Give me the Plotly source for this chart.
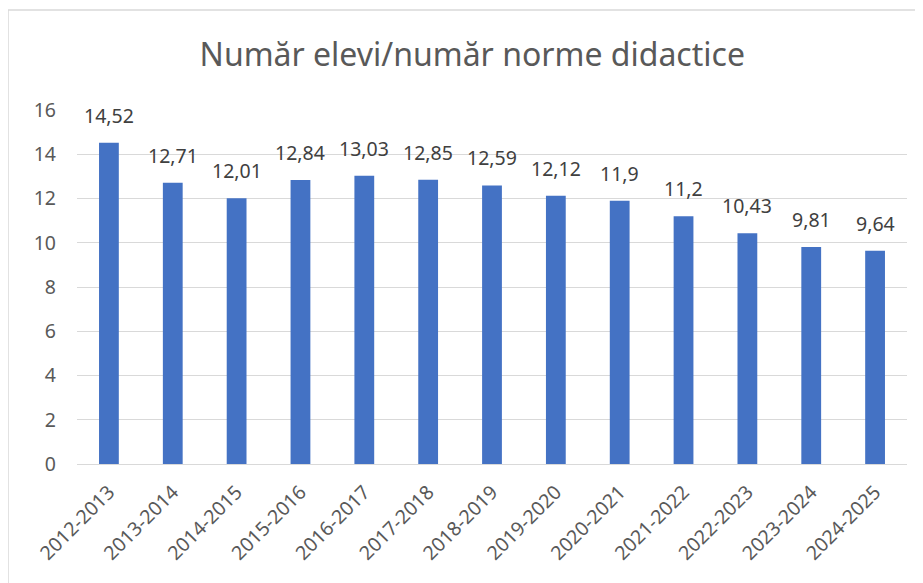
import plotly.graph_objects as go

categories = ["2012-2013", "2013-2014", "2014-2015", "2015-2016", "2016-2017",
              "2017-2018", "2018-2019", "2019-2020", "2020-2021", "2021-2022",
              "2022-2023", "2023-2024", "2024-2025"]
values = [14.52, 12.71, 12.01, 12.84, 13.03, 12.85, 12.59, 12.12, 11.9, 11.2, 10.43, 9.81, 9.64]
y_ticks = [0, 2, 4, 6, 8, 10, 12, 14, 16]
title_text = "Număr elevi/număr norme didactice"

labels = [str(v).replace(".", ",") for v in values]

FONT = "Noto Sans"
GRAY = "#595959"

# page body has an 8px margin: figure coordinates = reference pixels - 8
L, R, T, B = 69, 24, 102, 127
PW, PH = 923 - L - R, 583 - T - B

fig = go.Figure()
fig.add_trace(go.Bar(x=categories, y=values, marker=dict(color="#4472C4", line=dict(width=0)),
                     width=0.31, hoverinfo="skip"))

for c, v, t in zip(categories, values, labels):
    fig.add_annotation(x=c, y=v, text=t, showarrow=False, yanchor="bottom", yshift=12,
                       font=dict(family=FONT, size=19.5, color="#404040"))

fig.update_layout(
    width=923, height=583,
    margin=dict(l=L, r=R, t=T, b=B, autoexpand=False),
    paper_bgcolor="white", plot_bgcolor="white",
    showlegend=False,
    title=dict(text=title_text, x=0.503, xanchor="center", y=1 - 47 / 583, yanchor="middle",
               font=dict(family=FONT, size=32, color=GRAY)),
    xaxis=dict(type="category", tickangle=-45, showgrid=False, showline=False, ticks="",
               automargin=False, ticklabelstandoff=12,
               tickfont=dict(family=FONT, size=19.5, color=GRAY)),
    yaxis=dict(range=[0, 16], tickvals=y_ticks, showgrid=True, gridcolor="#D9D9D9", gridwidth=1,
               zeroline=True, zerolinecolor="#D9D9D9", zerolinewidth=1, showline=False, ticks="",
               automargin=False,
               tickfont=dict(family=FONT, size=19.5, color=GRAY), ticklabelstandoff=20),
    shapes=[dict(type="rect", xref="paper", yref="paper", x0=(0 - L) / PW, x1=(940 - L) / PW,
                 y0=-(600 - (583 - B)) / PH, y1=1 + (T - 2) / PH,
                 line=dict(color="#D9D9D9", width=1.5), fillcolor="rgba(0,0,0,0)", layer="below")],
)

fig.write_html("out.html")
